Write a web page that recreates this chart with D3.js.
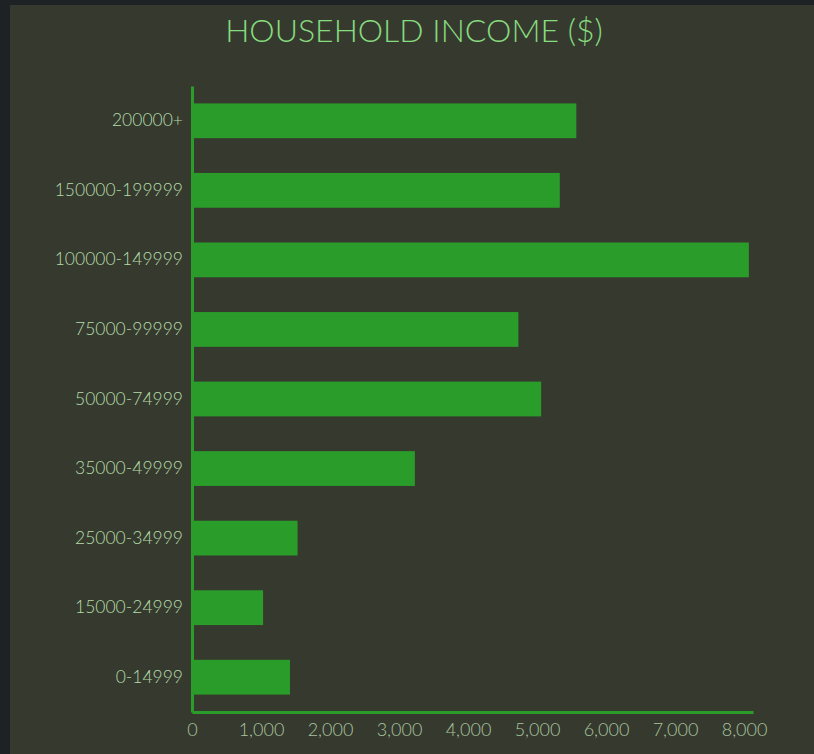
<!DOCTYPE html>
<html>
<head>
<meta charset="utf-8">
<script src="https://cdn.jsdelivr.net/npm/d3@7"></script>
<style>
  body { margin: 0; background: #1f2224; }
  svg { display: block; }
</style>
</head>
<body>
<div id="chart"></div>
<script>
var incomeBands = ["200000+", "150000-199999", "100000-149999", "75000-99999",
    "50000-74999", "35000-49999", "25000-34999", "15000-24999", "0-14999"];
var households = [5570, 5330, 8070, 4730, 5060, 3230, 1530, 1030, 1420];
var xTicks = [0, 1000, 2000, 3000, 4000, 5000, 6000, 7000, 8000];

var w = 814;
var h = 754;
var margin = {top: 86, right: 61, bottom: 42, left: 192};

var data = incomeBands.map(function(b, i) { return {band: b, value: households[i]}; });

var svg = d3.select("#chart")
    .append("svg")
    .attr("width", w)
    .attr("height", h);

// panel
svg.append("rect")
    .attr("x", 10)
    .attr("y", 5)
    .attr("width", w - 10)
    .attr("height", h - 5)
    .attr("fill", "#363a2e");

svg.append("text")
    .attr("x", 414)
    .attr("y", 42)
    .style("text-anchor", "middle")
    .attr("font-family", "Lato, 'Open Sans', sans-serif")
    .attr("font-weight", 300)
    .attr("font-size", "32px")
    .attr("fill", "#86dc7e")
    .text("HOUSEHOLD INCOME ($)");

var xScale = d3.scaleLinear()
    .domain([0, d3.max(households) + 60])
    .range([margin.left, w - margin.right]);

var yScale = d3.scaleBand()
    .domain(incomeBands)
    .range([margin.top, h - margin.bottom])
    .paddingInner(0.5)
    .paddingOuter(0.25);

svg.selectAll("rect.bar")
    .data(data)
    .enter()
    .append("rect")
    .attr("class", "bar")
    .attr("x", xScale(0))
    .attr("y", function(d) { return yScale(d.band); })
    .attr("width", function(d) { return xScale(d.value) - xScale(0); })
    .attr("height", yScale.bandwidth())
    .attr("fill", "#2a9c2a");

var xAxis = d3.axisBottom(xScale).tickValues(xTicks).tickSize(0).tickPadding(11)
    .tickFormat(d3.format(","));
var yAxis = d3.axisLeft(yScale).tickSize(0).tickPadding(9);

var gx = svg.append("g")
    .attr("transform", "translate(0," + (h - margin.bottom) + ")")
    .call(xAxis);
var gy = svg.append("g")
    .attr("transform", "translate(" + margin.left + ",0)")
    .call(yAxis);

[gx, gy].forEach(function(g) {
    g.select(".domain").attr("stroke", "#2a9c2a").attr("stroke-width", 3);
    g.selectAll("text")
        .attr("font-family", "Lato, 'Open Sans', sans-serif")
        .attr("font-weight", 300);
});
gx.selectAll("text").attr("fill", "#a9c4a0").attr("font-size", "18px");
gy.selectAll("text").attr("fill", "#b4dcaa").attr("font-size", "17.5px");
</script>
</body>
</html>
